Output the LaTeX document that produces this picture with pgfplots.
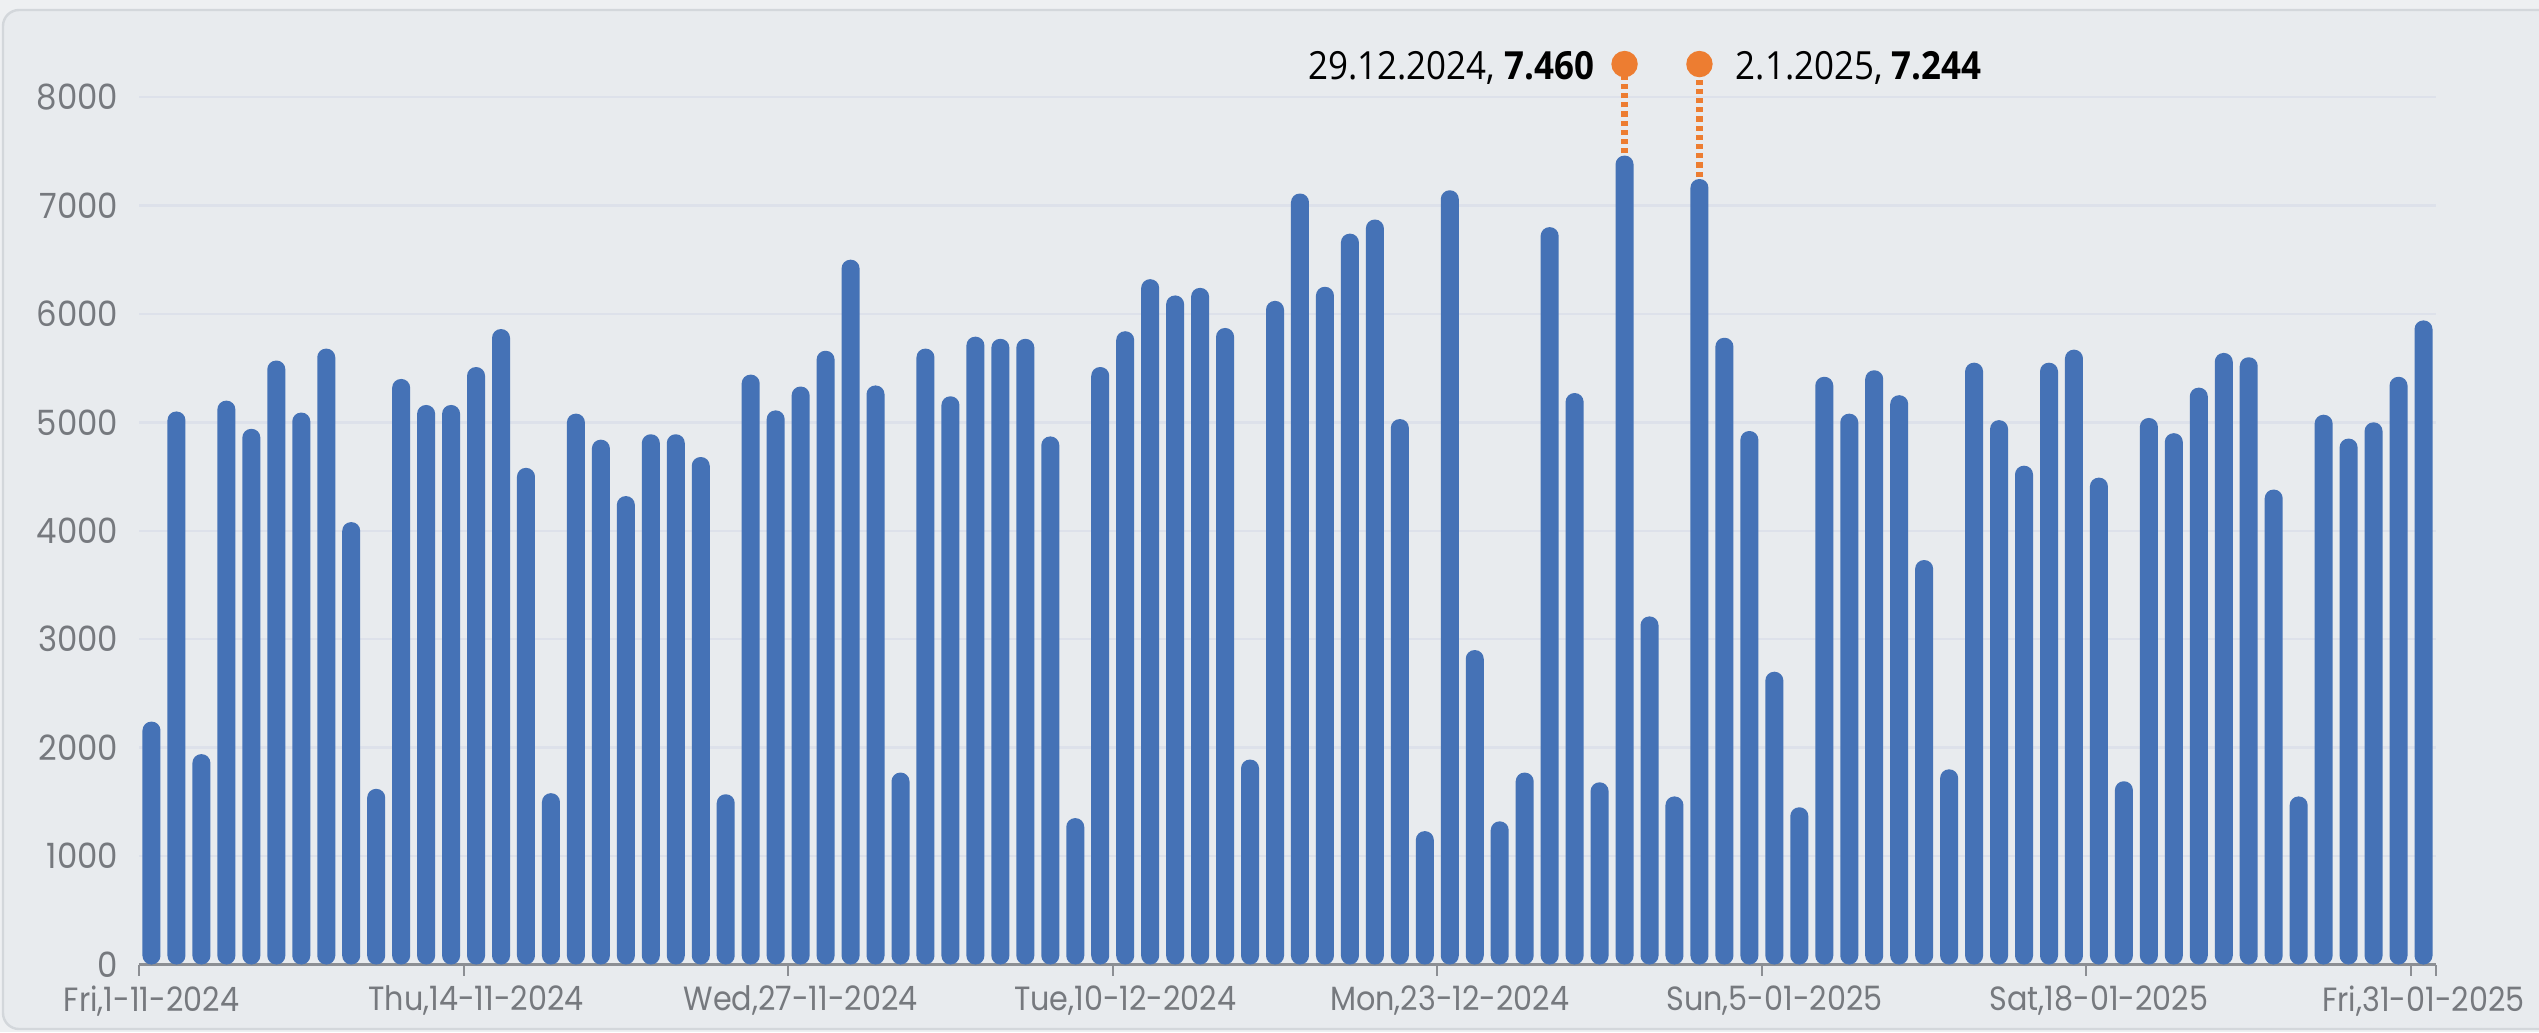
\documentclass[border=0pt]{standalone}
\usepackage{fontspec}
\usepackage{pgfplots}
\usepackage{pgfplotstable}
\pgfplotsset{compat=1.18}
\setmainfont{Open Sans}
\newfontfamily\tickx[FakeStretch=0.9]{Poppins}
\newfontfamily\ticky[FakeStretch=0.93]{Poppins}
\newfontfamily\annot[FakeStretch=0.9]{Open Sans}
\definecolor{barblue}{RGB}{69,114,182}
\definecolor{dotorange}{RGB}{237,125,49}
\definecolor{bgin}{RGB}{232,235,238}
\definecolor{bgout}{RGB}{238,240,242}
\definecolor{framec}{RGB}{211,215,219}
\definecolor{gridc}{RGB}{221,225,234}
\definecolor{labelgray}{RGB}{118,121,126}
\definecolor{axisgray}{RGB}{140,143,148}
\pgfplotstableread{
x y
0.5 2240
1.5 5100
2.5 1940
3.5 5200
4.5 4940
5.5 5570
6.5 5090
7.5 5680
8.5 4080
9.5 1620
10.5 5400
11.5 5160
12.5 5160
13.5 5510
14.5 5860
15.5 4580
16.5 1580
17.5 5080
18.5 4840
19.5 4320
20.5 4890
21.5 4890
22.5 4680
23.5 1570
24.5 5440
25.5 5110
26.5 5330
27.5 5660
28.5 6500
29.5 5340
30.5 1770
31.5 5680
32.5 5240
33.5 5790
34.5 5770
35.5 5770
36.5 4870
37.5 1350
38.5 5510
39.5 5840
40.5 6320
41.5 6170
42.5 6240
43.5 5870
44.5 1890
45.5 6120
46.5 7110
47.5 6250
48.5 6740
49.5 6870
50.5 5030
51.5 1230
52.5 7140
53.5 2900
54.5 1320
55.5 1770
56.5 6800
57.5 5270
58.5 1680
59.5 7460
60.5 3210
61.5 1550
62.5 7244
63.5 5780
64.5 4920
65.5 2700
66.5 1450
67.5 5420
68.5 5080
69.5 5480
70.5 5250
71.5 3730
72.5 1800
73.5 5550
74.5 5020
75.5 4600
76.5 5550
77.5 5670
78.5 4490
79.5 1690
80.5 5040
81.5 4900
82.5 5320
83.5 5640
84.5 5600
85.5 4380
86.5 1550
87.5 5070
88.5 4850
89.5 5000
90.5 5420
91.5 5940
}\visits
\begin{document}
\begin{tikzpicture}
\useasboundingbox (0,0) rectangle (634.75pt,258pt);
\fill[bgout] (0,0) rectangle (634.75pt,258pt);
\draw[framec, fill=bgin, line width=0.6pt, rounded corners=4pt] (0.75pt,0.75pt) rectangle (645pt,255.5pt);
\begin{axis}[
  at={(34.75pt,16.875pt)}, anchor=south west,
  width=574.25pt, height=216.875pt, scale only axis,
  xmin=0, xmax=92, ymin=0, ymax=8000,
  clip=false,
  axis x line*=bottom, axis y line*=left,
  y axis line style={draw=none},
  x axis line style={draw=axisgray, line width=0.7pt},
  ytick={0,1000,2000,3000,4000,5000,6000,7000,8000},
  yticklabels={0,1000,2000,3000,4000,5000,6000,7000,8000},
  xtick={0.5,13.5,26.5,39.5,52.5,65.5,78.5,91.5},
  xticklabels={{Fri,1-11-2024},{Thu,14-11-2024},{Wed,27-11-2024},{Tue,10-12-2024},{Mon,23-12-2024},{Sun,5-01-2025},{Sat,18-01-2025},{Fri,31-01-2025}},
  minor xtick={0,13,26,39,52,65,78,91,92},
  major tick length=0pt, minor tick length=2.75pt, tick align=outside,
  minor tick style={draw=axisgray, line width=0.5pt},
  ymajorgrids, major grid style={draw=gridc, line width=0.6pt},
  yticklabel style={font=\ticky\fontsize{8.7}{10}\selectfont, text=labelgray, inner sep=0pt, anchor=east, xshift=-5pt},
  xticklabel style={font=\tickx\fontsize{8.4}{9.5}\selectfont, text=labelgray, inner sep=0pt, anchor=north, yshift=-5.2pt},
]
\addplot[ybar, bar width=4.5pt, bar shift=0pt, fill=barblue, draw=none, rounded corners=2.2pt] table[x=x,y=y]{\visits};
\addplot[dotorange, line width=1.8pt, dash pattern=on 1.3pt off 1pt] coordinates {(59.5,7480) (59.5,8304)};
\addplot[dotorange, line width=1.8pt, dash pattern=on 1.3pt off 1pt] coordinates {(62.5,7264) (62.5,8304)};
\addplot[only marks, mark=*, mark size=3.1pt, color=dotorange] coordinates {(59.5,8304) (62.5,8304)};
\node[anchor=base east, inner sep=0pt, font=\annot\fontsize{9.7}{11}\selectfont] at ([xshift=-7.4pt,yshift=-3.75pt]axis cs:59.5,8304) {29.12.2024, \textbf{7.460}};
\node[anchor=base west, inner sep=0pt, font=\annot\fontsize{9.7}{11}\selectfont] at ([xshift=8.9pt,yshift=-3.75pt]axis cs:62.5,8304) {2.1.2025, \textbf{7.244}};
\end{axis}
\end{tikzpicture}
\end{document}
